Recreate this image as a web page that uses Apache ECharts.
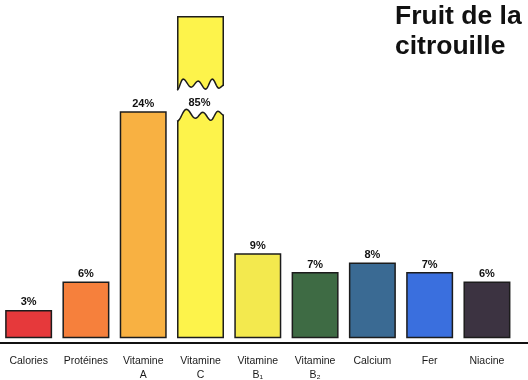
<!DOCTYPE html>
<html><head><meta charset="utf-8">
<script src="https://cdn.jsdelivr.net/npm/echarts@6/dist/echarts.min.js"></script>
<style>html,body{margin:0;padding:0;background:#fff}#c{width:528px;height:380px}</style>
</head><body><div id="c"></div>
<script>
const categories = ['Calories', 'Protéines', 'Vitamine\nA', 'Vitamine\nC', 'Vitamine\nB₁', 'Vitamine\nB₂', 'Calcium', 'Fer', 'Niacine'];
const values = [3, 6, 24, 85, 9, 7, 8, 7, 6];
const barColors = ['#e6393b', '#f6803c', '#f8b142', '#fdf34b', '#f3e94e', '#3e6b44', '#3a6a93', '#3a6fde', '#3c3341'];
const titleLines = ['Fruit de la', 'citrouille'];
const axisBreak = { start: 24.1, end: 77.8, gap: '8%' };

// wave outlines (fraction across bar, pixel offset) for the broken bar
const upperWave = [[0, 6], [0.13, -5], [0.3, 3], [0.45, -3], [0.61, 5], [0.75, -5], [0.89, 4], [1, 1]];
const lowerWave = [[0, 7], [0.2, -5], [0.39, 4], [0.55, -2], [0.72, 6], [0.87, -3], [1, 1]];

function densify(keys) {
  const out = [];
  for (let i = 0; i < keys.length - 1; i++) {
    const [f0, d0] = keys[i], [f1, d1] = keys[i + 1];
    for (let s = 0; s < 8; s++) {
      const t = s / 8;
      out.push([f0 + (f1 - f0) * t, d0 + (d1 - d0) * (1 - Math.cos(Math.PI * t)) / 2]);
    }
  }
  out.push(keys[keys.length - 1]);
  return out;
}
const upD = densify(upperWave), lowD = densify(lowerWave);

const chart = echarts.init(document.getElementById('c'), null, { renderer: 'canvas' });
const font = '"Liberation Sans", Arial, Helvetica, sans-serif';
const brokenItems = values.map((v, i) => [i, v]).filter(d => d[1] > axisBreak.end);

chart.setOption({
  backgroundColor: '#fff',
  animation: false,
  title: {
    text: titleLines.join('\n'),
    left: 395, top: 2, padding: 0,
    textStyle: { fontFamily: font, fontSize: 26.5, fontWeight: 'bold', lineHeight: 30, color: '#111' }
  },
  grid: [
    { left: 0, right: 12.4, top: 16, bottom: 37, containLabel: false, outerBoundsMode: 'none' },
    { left: 0, right: 0, top: 16, bottom: 37, containLabel: false, outerBoundsMode: 'none' }
  ],
  xAxis: [
    {
      type: 'category', gridIndex: 0, data: categories,
      axisLine: { show: false }, axisTick: { show: false },
      axisLabel: { interval: 0, margin: 11, fontFamily: font, fontSize: 10.5, lineHeight: 14, color: '#1a1a1a' }
    },
    {
      type: 'value', gridIndex: 1, min: 0, max: 1,
      axisLine: { show: true, lineStyle: { color: '#111', width: 2 } },
      axisTick: { show: false }, axisLabel: { show: false }, splitLine: { show: false }
    }
  ],
  yAxis: [
    {
      type: 'value', gridIndex: 0, min: -0.5, max: 85,
      breaks: [axisBreak],
      breakArea: { show: false },
      axisLine: { show: false }, axisTick: { show: false }, axisLabel: { show: false }, splitLine: { show: false }
    },
    { type: 'value', gridIndex: 1, show: false, min: 0, max: 1 }
  ],
  series: [
    {
      type: 'bar', xAxisIndex: 0, yAxisIndex: 0,
      barCategoryGap: '18%',
      data: values.map((v, i) => ({
        value: v,
        itemStyle: { color: barColors[i] },
        label: { show: v <= axisBreak.start }
      })),
      itemStyle: { borderColor: '#1c1c1c', borderWidth: 1.5 },
      label: {
        position: 'top', distance: 2, formatter: '{c}%',
        fontFamily: font, fontSize: 11, fontWeight: 'bold', color: '#111'
      }
    },
    {
      type: 'custom', xAxisIndex: 0, yAxisIndex: 0, z: 5,
      data: brokenItems,
      encode: { x: 0, y: 1 },
      renderItem(params, api) {
        const idx = api.value(0), v = api.value(1);
        const band = api.size([1, 0])[0];
        const w = band * 0.82;
        const cx = api.coord([idx, 0])[0];
        const x0 = cx - w / 2;
        const yLow = api.coord([idx, axisBreak.start])[1] + 4;
        const yUp = api.coord([idx, axisBreak.end])[1];
        const up = upD.map(([f, d]) => [x0 + f * w, yUp + d]);
        const low = lowD.map(([f, d]) => [x0 + f * w, yLow + d]);
        const cover = [[x0 - 2, up[0][1]]].concat(up, [[x0 + w + 2, up[up.length - 1][1]], [x0 + w + 2, low[low.length - 1][1]]], low.slice().reverse(), [[x0 - 2, low[0][1]]]);
        return {
          type: 'group',
          children: [
            { type: 'polygon', shape: { points: cover }, style: { fill: '#fff', stroke: null } },
            { type: 'polyline', shape: { points: up }, style: { fill: null, stroke: '#1c1c1c', lineWidth: 1.5 } },
            { type: 'polyline', shape: { points: low }, style: { fill: null, stroke: '#1c1c1c', lineWidth: 1.5 } },
            {
              type: 'text',
              style: {
                x: cx - 1, y: yLow - 11, text: v + '%', align: 'center', verticalAlign: 'middle',
                font: 'bold 11px ' + font, fill: '#111'
              }
            }
          ]
        };
      }
    }
  ]
});
</script>
</body></html>
